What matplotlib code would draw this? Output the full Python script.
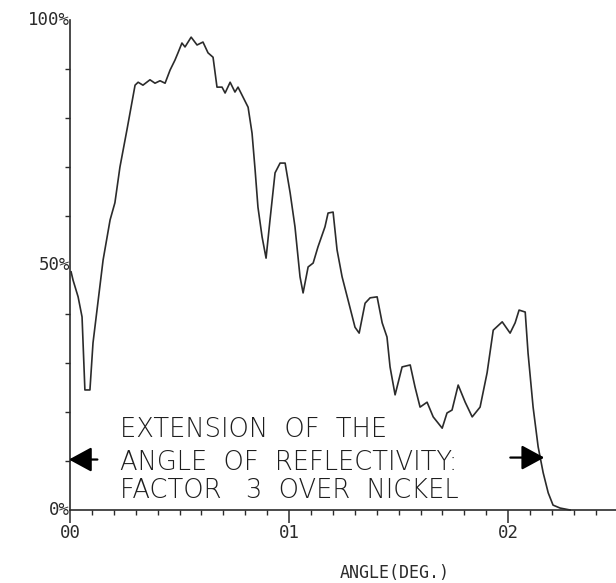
import matplotlib.pyplot as plt
from matplotlib.ticker import MultipleLocator

# reflectivity curve, angle in degrees vs reflectivity in %
angle = [0.0005, 0.0014, 0.0037, 0.0055, 0.0068, 0.0091, 0.0105, 0.0151, 0.0183,
         0.0205, 0.0228, 0.0260, 0.0297, 0.0311, 0.0333, 0.0365, 0.0388, 0.0411,
         0.0434, 0.0457, 0.0479, 0.0493, 0.0511, 0.0525, 0.0553, 0.0580, 0.0607,
         0.0630, 0.0653, 0.0671, 0.0694, 0.0708, 0.0731, 0.0753, 0.0767, 0.0813,
         0.0831, 0.0845, 0.0858, 0.0877, 0.0895, 0.0913, 0.0936, 0.0959, 0.0982,
         0.1005, 0.1027, 0.1050, 0.1064, 0.1087, 0.1110, 0.1132, 0.1164, 0.1178,
         0.1201, 0.1219, 0.1242, 0.1269, 0.1301, 0.1320, 0.1347, 0.1370, 0.1402,
         0.1425, 0.1447, 0.1461, 0.1484, 0.1516, 0.1553, 0.1575, 0.1598, 0.1630,
         0.1658, 0.1699, 0.1721, 0.1744, 0.1772, 0.1804, 0.1836, 0.1872, 0.1904,
         0.1932, 0.1973, 0.2009, 0.2032, 0.2050, 0.2078, 0.2091, 0.2114, 0.2137,
         0.2160, 0.2183, 0.2205, 0.2237, 0.2283]
refl = [48.6, 46.9, 43.5, 39.4, 24.5, 24.5, 34.1, 51.0, 59.2,
        62.7, 70.0, 77.6, 86.7, 87.3, 86.7, 87.8, 87.1, 87.6,
        87.1, 89.8, 91.8, 93.3, 95.3, 94.5, 96.5, 94.9, 95.5,
        93.3, 92.4, 86.3, 86.3, 85.1, 87.3, 85.3, 86.3, 82.2,
        76.9, 69.4, 61.8, 55.7, 51.4, 59.2, 68.8, 70.8, 70.8,
        64.7, 57.8, 47.6, 44.3, 49.6, 50.4, 53.7, 57.8, 60.6,
        60.8, 53.1, 47.6, 42.9, 37.3, 36.1, 42.2, 43.3, 43.5,
        38.2, 35.3, 29.2, 23.5, 29.2, 29.6, 25.1, 21.0, 22.0,
        19.0, 16.7, 19.8, 20.4, 25.5, 22.0, 19.0, 21.0, 28.0,
        36.7, 38.4, 36.1, 38.2, 40.8, 40.4, 32.0, 21.0, 12.9,
        7.6, 3.5, 1.0, 0.4, 0.0]

x_ticks = [0.0, 0.1, 0.2]
x_labels = ['00', '01', '02']
y_ticks = [0, 50, 100]
y_labels = ['0%', '50%', '100%']

note_lines = ['EXTENSION  OF  THE', 'ANGLE  OF  REFLECTIVITY:', 'FACTOR   3  OVER  NICKEL']
arrow_y = 10.3
left_arrow = (-0.0005, 0.0125)     # tip, tail
right_arrow = (0.2165, 0.2010)

ink = '#2b2b2b'
mono = 'DejaVu Sans Mono'

fig = plt.figure(figsize=(6.16, 5.83), dpi=100)
ax = fig.add_axes([70 / 616, 73 / 583, 547 / 616, 490 / 583])

ax.plot(angle, refl, color=ink, lw=1.2, clip_on=False)

ax.set_xlim(0, 0.2497)
ax.set_ylim(0, 100)
for side in ('top', 'right'):
    ax.spines[side].set_visible(False)
for side in ('left', 'bottom'):
    ax.spines[side].set_color(ink)
    ax.spines[side].set_linewidth(1.2)

ax.set_xticks(x_ticks)
ax.set_xticklabels(x_labels, family=mono, fontsize=12.5, color=ink)
ax.xaxis.set_minor_locator(MultipleLocator(0.01))
ax.tick_params(axis='x', which='major', length=9, width=1.1, color=ink, pad=1)
ax.tick_params(axis='x', which='minor', length=3.5, width=1.0, color=ink)

ax.set_yticks(y_ticks)
ax.set_yticklabels(y_labels, family=mono, fontsize=12.5, color=ink, va='center')
ax.yaxis.set_minor_locator(MultipleLocator(10))
ax.tick_params(axis='y', which='major', length=0, pad=0)
ax.tick_params(axis='y', which='minor', length=3.5, width=1.0, color=ink)

fig.text(395 / 616, 1 - 573 / 583, 'ANGLE(DEG.)', family=mono, fontsize=12,
         color=ink, ha='center', va='center')

# annotation block
baselines = [437, 470, 498]
for line, b in zip(note_lines, baselines):
    fig.text(120 / 616, 1 - b / 583, line, family='DejaVu Sans', weight='light',
             fontsize=18.5, color='#1e1e1e', ha='left', va='baseline')

arrow_kw = dict(arrowstyle='-|>,head_length=0.7,head_width=0.38',
                mutation_scale=20, lw=1.6, color='black', shrinkA=0, shrinkB=0)
ax.annotate('', xy=(left_arrow[0], arrow_y), xytext=(left_arrow[1], arrow_y),
            arrowprops=arrow_kw, annotation_clip=False)
ax.annotate('', xy=(right_arrow[0], arrow_y + 0.4), xytext=(right_arrow[1], arrow_y + 0.4),
            arrowprops=arrow_kw)

fig.savefig('out.png', dpi=100)
